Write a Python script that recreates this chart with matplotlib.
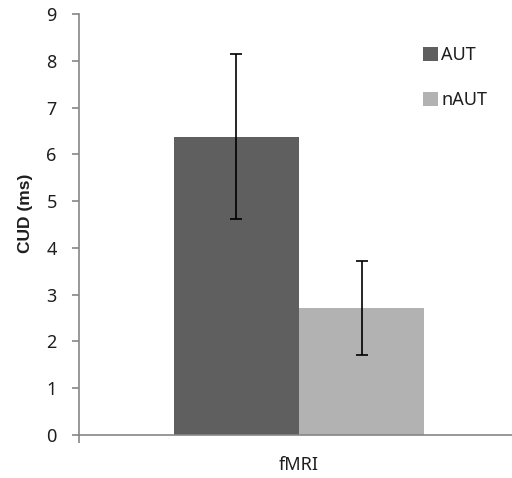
import numpy as np
import matplotlib.pyplot as plt
from matplotlib.patches import Patch

# group means and error bars (ms)
groups = ['AUT', 'nAUT']
cud_mean = [6.38, 2.72]
cud_err = [1.77, 1.01]
category = 'fMRI'

colors = ['#5f5f5f', '#b2b2b2']
axcol = '#868686'
txtcol = '#1e1e1e'

plt.rcParams['font.family'] = ['Noto Sans', 'DejaVu Sans']
plt.rcParams['font.size'] = 13

fig = plt.figure(figsize=(5.12, 4.78), dpi=100)
ax = fig.add_axes([79/512, 1-435/478, 440/512, 421/478])

wbar = 0.285
xpos = np.array([-wbar/2, wbar/2])
for i in range(len(groups)):
    ax.bar(xpos[i], cud_mean[i], width=wbar, color=colors[i], label=groups[i],
           yerr=cud_err[i], capsize=4.5,
           error_kw=dict(ecolor='black', elinewidth=1.2, capthick=1.2))

ax.set_xlim(-0.5, 0.5)
ax.set_ylim(0, 9)
ax.set_yticks(np.arange(0, 10, 1))
ax.set_xticks([0])
ax.set_xticklabels([category])

for s in ['top', 'right']:
    ax.spines[s].set_visible(False)
for s in ['left', 'bottom']:
    ax.spines[s].set_color(axcol)
    ax.spines[s].set_linewidth(1.2)

ax.tick_params(axis='y', direction='out', length=5, width=1.2, color=axcol,
               pad=11, labelcolor=txtcol, labelsize=13)
ax.tick_params(axis='x', length=0, pad=15, labelcolor=txtcol, labelsize=13)
# small tick at the category boundary, below the axis
ax.set_xticks([-0.5], minor=True)
ax.tick_params(axis='x', which='minor', direction='out', length=6, width=1.2, color=axcol)

ax.set_ylabel('CUD (ms)', fontweight='bold', fontsize=12.5, color=txtcol,
              family='Liberation Sans')
ax.yaxis.set_label_coords(-0.105, 0.527)

handles = [Patch(facecolor=c) for c in colors]
ax.legend(handles, groups, loc='upper left', bbox_to_anchor=(0.782, 0.924),
          frameon=False, handlelength=0.8, handleheight=0.8,
          handletextpad=0.22, labelspacing=1.5, borderaxespad=0, borderpad=0,
          fontsize=13, labelcolor=txtcol)

fig.savefig('out.png', dpi=100)
